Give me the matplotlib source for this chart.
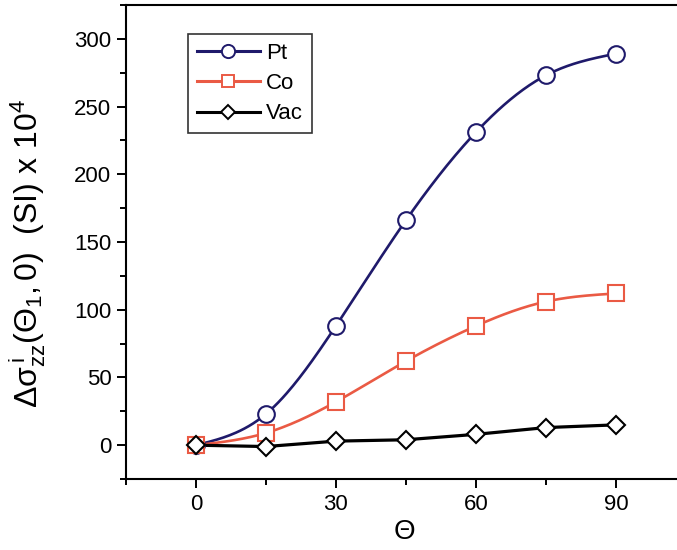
import numpy as np
import matplotlib
matplotlib.use('Agg')
import matplotlib.pyplot as plt
from matplotlib.lines import Line2D
from matplotlib.ticker import MultipleLocator

plt.rcParams['font.family'] = ['Liberation Sans', 'DejaVu Sans']
plt.rcParams['mathtext.fontset'] = 'custom'
plt.rcParams['mathtext.rm'] = 'Liberation Sans'
plt.rcParams['mathtext.it'] = 'Liberation Sans'

# данные
theta = [0, 15, 30, 45, 60, 75, 90]
pt = [0, 23, 88, 166, 231, 273, 289]
co = [0, 9, 32, 62, 88, 106, 112]
vac = [0, -1, 3, 4, 8, 13, 15]
names = ['Pt', 'Co', 'Vac']
colors = ['#1f1a6b', '#ea5a44', '#000000']
markers = ['o', 's', 'D']


def smooth(x, y, n=200):
    # натуральный кубический сплайн для соединительной линии
    x = np.asarray(x, float)
    y = np.asarray(y, float)
    k = len(x)
    h = np.diff(x)
    A = np.zeros((k, k))
    b = np.zeros(k)
    A[0, 0] = A[-1, -1] = 1
    for i in range(1, k - 1):
        A[i, i - 1] = h[i - 1]
        A[i, i] = 2 * (h[i - 1] + h[i])
        A[i, i + 1] = h[i]
        b[i] = 6 * ((y[i + 1] - y[i]) / h[i] - (y[i] - y[i - 1]) / h[i - 1])
    M = np.linalg.solve(A, b)
    xs = np.linspace(x[0], x[-1], n)
    idx = np.clip(np.searchsorted(x, xs) - 1, 0, k - 2)
    x0, x1 = x[idx], x[idx + 1]
    hh = x1 - x0
    t0, t1 = x1 - xs, xs - x0
    ys = (M[idx] * t0**3 / (6 * hh) + M[idx + 1] * t1**3 / (6 * hh)
          + (y[idx] / hh - M[idx] * hh / 6) * t0
          + (y[idx + 1] / hh - M[idx + 1] * hh / 6) * t1)
    return xs, ys


fig = plt.figure(figsize=(6.77, 5.5), dpi=100)
ax = fig.add_axes([0.186, 0.129, 0.827, 0.862])

series = [pt, co, vac]
sizes = [12, 11, 9]
leg_sizes = [9.5, 8.5, 7.5]
handles = []
for vals, name, c, m, ms, lms in zip(series, names, colors, markers,
                                     sizes, leg_sizes):
    if name == 'Vac':
        ax.plot(theta, vals, color=c, lw=2.3, zorder=2)
    else:
        xs, ys = smooth(theta, vals)
        ax.plot(xs, ys, color=c, lw=1.9, zorder=2)
    ax.plot(theta, vals, ls='none', marker=m, ms=ms, mfc='white', mec=c,
            mew=1.5, zorder=3)
    handles.append(Line2D([], [], color=c, lw=2.2, marker=m, ms=lms,
                          mfc='white', mec=c, mew=1.4, label=name))

ax.set_xlim(-15, 105)
ax.set_ylim(-25, 325)
ax.xaxis.set_major_locator(MultipleLocator(30))
ax.xaxis.set_minor_locator(MultipleLocator(15))
ax.yaxis.set_major_locator(MultipleLocator(50))
ax.yaxis.set_minor_locator(MultipleLocator(25))
ax.tick_params(which='both', direction='out', top=False, right=False,
               width=1.4, labelsize=16)
ax.tick_params(which='major', length=6.5, pad=4)
ax.tick_params(which='minor', length=4)
for s in ax.spines.values():
    s.set_linewidth(1.5)
ax.spines['right'].set_visible(False)

ax.set_xlabel('Θ', fontsize=20)
ax.xaxis.set_label_coords(0.497, -0.085)
ax.set_ylabel(r'$\Delta\sigma^{\,i}_{zz}(\Theta_{1},0)$  (SI) x 10$^{4}$',
              fontsize=23)
ax.yaxis.set_label_coords(-0.14, 0.475)

leg = ax.legend(handles=handles, loc='upper left',
                bbox_to_anchor=(0.1107, 0.939), borderaxespad=0,
                fontsize=16, handlelength=2.85, handletextpad=0.25,
                labelspacing=0.42, borderpad=0.4, fancybox=False,
                framealpha=1)
leg.get_frame().set_edgecolor('#333333')
leg.get_frame().set_linewidth(1.2)

fig.savefig('out.png', dpi=100)
